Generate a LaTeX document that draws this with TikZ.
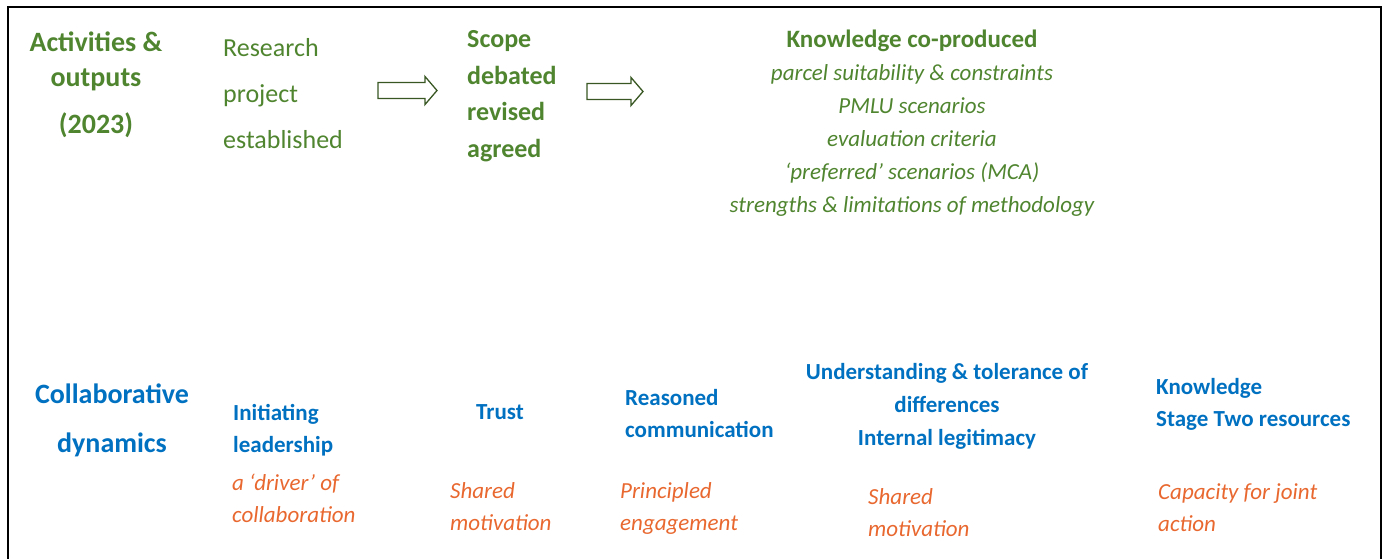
\documentclass[tikz,border=0pt]{standalone}
\usepackage{fontspec}
\setmainfont{Carlito}

\definecolor{outgreen}{RGB}{80,133,48}
\definecolor{arrgreen}{RGB}{56,87,35}
\definecolor{dynblue}{RGB}{0,112,192}
\definecolor{caporange}{RGB}{232,104,48}

\newcommand{\fsz}[2]{\fontsize{#1}{#2}\selectfont}
% hollow block arrow: left end x, centre y, length
\newcommand{\blockarr}[3]{%
  \draw[blockarrow] (#1,#2-8) -- ++(#3-12,0) -- ++(0,-6) -- (#1+#3,#2)
    -- (#1+#3-12,#2+14) -- ++(0,-6) -- (#1,#2+8) -- cycle;}

\tikzset{
  lefttxt/.style={inner sep=0pt, align=left, anchor=base west},
  midtxt/.style={inner sep=0pt, align=center, anchor=base},
  blockarrow/.style={draw=arrgreen, fill=white, line width=1.3pt, line join=miter},
}

\begin{document}
\begin{tikzpicture}[x=1pt, y=-1pt]
    \useasboundingbox (0,0) rectangle (1389,558);

    % frame, open at the bottom
    \draw[line width=1.8pt] (8,570) -- (8,7) -- (1381,7) -- (1381,570);

    % top row: activities & outputs
    \node[midtxt, text=outgreen, font=\bfseries\fsz{28}{35}] (acthead) at (96,133)
        {Activities \&\\outputs\\[12pt](2023)};
    \node[lefttxt, text=outgreen, font=\fsz{26}{46}] (research) at (223,148)
        {Research\\project\\established};
    \blockarr{378}{90.5}{59}
    \node[lefttxt, text=outgreen, font=\bfseries\fsz{26}{36.5}] (scope) at (467,157)
        {Scope\\debated\\revised\\agreed};
    \blockarr{587}{91.5}{56}
    \node[midtxt, text=outgreen, font=\bfseries\fsz{25}{33}] (knowhead) at (912,47)
        {Knowledge co-produced};
    \node[midtxt, text=outgreen, font=\itshape\fsz{23}{33}] (knowlist) at (912,212)
        {parcel suitability \& constraints\\PMLU scenarios\\evaluation criteria\\
         `preferred' scenarios (MCA)\\strengths \& limitations of methodology};

    % bottom row: collaborative dynamics
    \node[midtxt, text=dynblue, font=\bfseries\fsz{28}{49}] (collab) at (112,452)
        {Collaborative\\dynamics};
    \node[lefttxt, text=dynblue, font=\bfseries\fsz{23}{32}] (lead) at (233,452)
        {Initiating\\leadership};
    \node[lefttxt, text=caporange, font=\itshape\fsz{23}{32}] (driver) at (232,522)
        {a `driver' of\\collaboration};
    \node[midtxt, text=dynblue, font=\bfseries\fsz{23}{32}] (trust) at (500,419)
        {Trust};
    \node[lefttxt, text=caporange, font=\itshape\fsz{23}{32}] (shared1) at (450,530)
        {Shared\\motivation};
    \node[lefttxt, text=dynblue, font=\bfseries\fsz{23}{32}] (reasoned) at (625,437)
        {Reasoned\\communication};
    \node[lefttxt, text=caporange, font=\itshape\fsz{23}{32}] (principled) at (620,530)
        {Principled\\engagement};
    \node[midtxt, text=dynblue, font=\bfseries\fsz{23}{33}] (understand) at (947,445)
        {Understanding \& tolerance of\\differences\\Internal legitimacy};
    \node[lefttxt, text=caporange, font=\itshape\fsz{23}{32}] (shared2) at (868,536)
        {Shared\\motivation};
    \node[lefttxt, text=dynblue, font=\bfseries\fsz{23}{32}] (knowres) at (1156,426)
        {Knowledge\\Stage Two resources};
    \node[lefttxt, text=caporange, font=\itshape\fsz{23}{32}] (capacity) at (1158,531)
        {Capacity for joint\\action};
\end{tikzpicture}
\end{document}
